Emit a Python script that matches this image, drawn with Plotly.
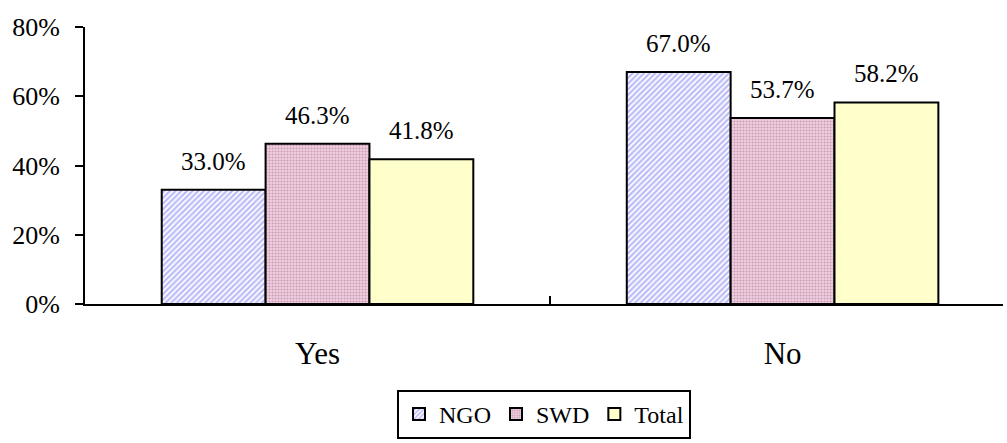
"""Yes/No responses by NGO, SWD and total, grouped bars."""

import plotly.graph_objects as go

categories = ["Yes", "No"]
series_names = ["NGO", "SWD", "Total"]
ngo = [0.330, 0.670]
swd = [0.463, 0.537]
total = [0.418, 0.582]

FONT = "Liberation Serif"
W, H = 1007, 443
MARGIN = dict(l=85, r=4, t=27, b=139)
BARGAP = 0.33
X_RANGE = [-0.5, 1.474]  # the right edge of the original chart is cut slightly

styles = {
    "NGO": dict(color="#ffffff", pattern=dict(shape="/", fgcolor="#7878f2", bgcolor="#ffffff",
                                                 size=4, solidity=0.55)),
    "SWD": dict(color="#ecc8dc", pattern=dict(shape=".", fgcolor="#a86888", bgcolor="#efd0e2",
                                                 size=3, solidity=0.4)),
    "Total": dict(color="#ffffcc"),
}

# pixel width of one bar, used to centre the value labels over each bar
plot_w = W - MARGIN["l"] - MARGIN["r"]
plot_h = H - MARGIN["t"] - MARGIN["b"]
cat_px = plot_w / (X_RANGE[1] - X_RANGE[0])
bar_px = cat_px * (1 - BARGAP) / len(series_names)

fig = go.Figure()
annotations = []
for i, (name, vals) in enumerate(zip(series_names, [ngo, swd, total])):
    fig.add_trace(go.Bar(
        x=categories,
        y=vals,
        name=name,
        marker=dict(line=dict(color="black", width=2), **styles[name]),
    ))
    for cat, v in zip(categories, vals):
        annotations.append(dict(
            x=cat, y=v, xref="x", yref="y",
            text=f"{v:.1%}",
            showarrow=False,
            xshift=(i - 1) * bar_px,
            yanchor="bottom",
            yshift=13,
            font=dict(family=FONT, size=25, color="black"),
        ))

fig.update_layout(
    width=W,
    height=H,
    margin=MARGIN,
    paper_bgcolor="white",
    plot_bgcolor="white",
    barmode="group",
    bargap=BARGAP,
    bargroupgap=0,
    font=dict(family=FONT, color="black"),
    annotations=annotations,
    showlegend=True,
    legend=dict(
        orientation="h",
        x=0.5,
        xanchor="center",
        # keep the legend inside the figure so it does not push the bottom margin
        y=-(MARGIN["b"] - 4) / plot_h,
        yanchor="bottom",
        bordercolor="black",
        borderwidth=2,
        font=dict(family=FONT, size=24),
        itemwidth=30,
        tracegroupgap=0,
    ),
)
fig.update_xaxes(
    automargin=False,
    range=X_RANGE,
    showline=True,
    linecolor="black",
    linewidth=2,
    tickson="boundaries",
    ticks="inside",
    ticklen=8,
    tickwidth=2,
    tickcolor="black",
    tickfont=dict(family=FONT, size=31),
    ticklabelstandoff=21,
    showgrid=False,
)
fig.update_yaxes(
    automargin=False,
    range=[0, 0.8],
    dtick=0.2,
    tickformat=".0%",
    showline=True,
    linecolor="black",
    linewidth=2,
    ticks="outside",
    ticklen=8,
    tickwidth=2,
    tickcolor="black",
    tickfont=dict(family=FONT, size=26),
    ticklabelstandoff=10,
    showgrid=False,
    zeroline=False,
)

# drop the default 8px body margin so the figure sits at the window origin
fig.write_html(
    "out.html",
    config={"displayModeBar": False},
    post_script="document.body.style.margin='0';",
)
